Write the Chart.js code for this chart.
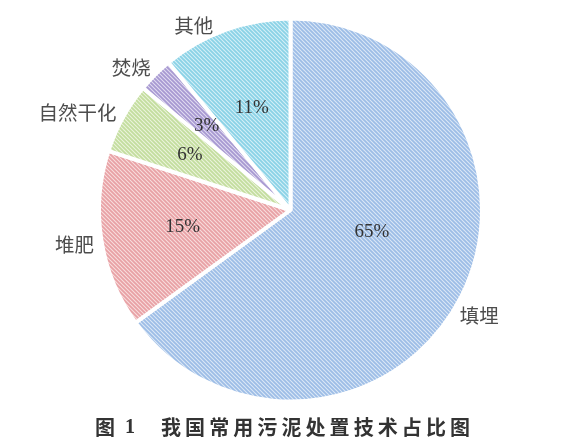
<!DOCTYPE html>
<html>
<head>
<meta charset="utf-8">
<script src="https://cdn.jsdelivr.net/npm/chart.js@4/dist/chart.umd.min.js"></script>
<style>
  html, body { margin: 0; padding: 0; background: #fff; }
</style>
</head>
<body>
<canvas id="c" width="577" height="448"></canvas>
<script>
// Sludge disposal methods and their shares (%)
const categories = ['填埋', '堆肥', '自然干化', '焚烧', '其他'];
const shares = [65, 15, 6, 3, 11];
const shareLabels = ['65%', '15%', '6%', '3%', '11%'];
const captionNo = ['图', '1'];
const captionText = '我国常用污泥处置技术占比图';

// Hatch colours per slice: [stripe, background]
const hatchColors = [
  ['#9dbde6', '#dce8f6'],
  ['#e8a1a5', '#f8dddd'],
  ['#c3dd9e', '#ebf4dc'],
  ['#a799d1', '#e2dcf1'],
  ['#8ad2e6', '#d5f0f7']
];

// Label placement tweaks: percent text radius fraction and angle nudge (deg),
// category text angle nudge (deg)
const pctRadius = [0.44, 0.57, 0.6, 0.62, 0.57];
const pctNudge = [-12, 0, 0, 0, -1];
const nameNudge = [5, -1, 0.5, 0.5, -3];

function makeHatch(stripe, bg) {
  const size = 4;
  const cv = document.createElement('canvas');
  cv.width = size; cv.height = size;
  const g = cv.getContext('2d');
  g.fillStyle = bg;
  g.fillRect(0, 0, size, size);
  g.strokeStyle = stripe;
  g.lineWidth = 1.8;
  g.beginPath();
  g.moveTo(-1, -1); g.lineTo(size + 1, size + 1);
  g.moveTo(-1, size - 1); g.lineTo(1, size + 1);
  g.moveTo(size - 1, -1); g.lineTo(size + 1, 1);
  g.stroke();
  return g.createPattern(cv, 'repeat');
}

const sliceLabels = {
  id: 'sliceLabels',
  afterDatasetsDraw(chart) {
    const ctx = chart.ctx;
    const arcs = chart.getDatasetMeta(0).data;
    ctx.save();
    arcs.forEach((arc, i) => {
      const p = arc.getProps(['x', 'y', 'startAngle', 'endAngle', 'outerRadius'], true);
      const mid = (p.startAngle + p.endAngle) / 2;
      // percentage inside the slice
      const a1 = mid + pctNudge[i] * Math.PI / 180;
      const r1 = 188 * pctRadius[i] * p.outerRadius / 188;
      ctx.font = '19px "Liberation Serif", "Times New Roman", serif';
      ctx.fillStyle = '#333';
      ctx.textAlign = 'center';
      ctx.textBaseline = 'middle';
      ctx.fillText(shareLabels[i], p.x + Math.cos(a1) * r1, p.y + Math.sin(a1) * r1);
      // category name outside the slice
      const a2 = mid + nameNudge[i] * Math.PI / 180;
      const r2 = p.outerRadius + 8;
      const tx = p.x + Math.cos(a2) * r2;
      const ty = p.y + Math.sin(a2) * r2;
      ctx.font = '19.5px "Noto Sans CJK SC", sans-serif';
      ctx.fillStyle = '#4d4d4d';
      ctx.textAlign = Math.cos(a2) < 0 ? 'right' : 'left';
      ctx.fillText(categories[i], tx, ty);
    });
    ctx.restore();
  }
};

// Figure caption under the pie, drawn glyph by glyph for wide tracking
const figureCaption = {
  id: 'figureCaption',
  afterDraw(chart) {
    const ctx = chart.ctx;
    const y = 427;
    ctx.save();
    ctx.fillStyle = '#333';
    ctx.textAlign = 'center';
    ctx.textBaseline = 'middle';
    ctx.font = 'bold 20px "Noto Sans CJK SC", sans-serif';
    ctx.fillText(captionNo[0], 105, y);
    ctx.font = 'bold 20px "Liberation Serif", serif';
    ctx.fillText(captionNo[1], 130, y + 1);
    ctx.font = 'bold 20px "Noto Sans CJK SC", sans-serif';
    const chars = Array.from(captionText);
    const start = 171, end = 460;
    const step = (end - start) / (chars.length - 1);
    chars.forEach((ch, k) => ctx.fillText(ch, start + k * step, y));
    ctx.restore();
  }
};

new Chart(document.getElementById('c'), {
  type: 'pie',
  data: {
    labels: categories,
    datasets: [{
      data: shares,
      backgroundColor: hatchColors.map(c => makeHatch(c[0], c[1])),
      borderColor: '#ffffff',
      borderWidth: 4
    }]
  },
  options: {
    responsive: false,
    animation: false,
    layout: { padding: { left: 97, right: 93, top: 16, bottom: 44 } },
    plugins: { legend: { display: false }, tooltip: { enabled: false } }
  },
  plugins: [sliceLabels, figureCaption]
});
</script>
</body>
</html>
